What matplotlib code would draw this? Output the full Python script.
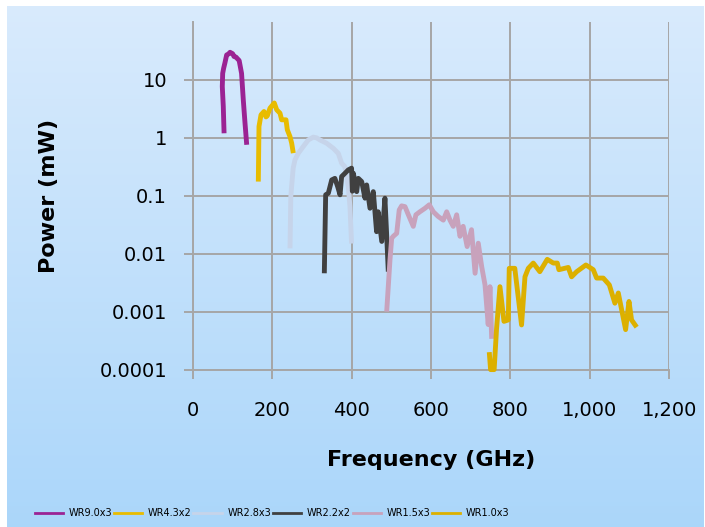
import numpy as np
import matplotlib.pyplot as plt
from matplotlib.lines import Line2D
from matplotlib.ticker import FixedLocator, FixedFormatter

# WR9.0x3
wr90_f = [79, 77, 74.5, 75.5, 78, 81, 85.5, 90, 94, 98, 100.7, 104, 109, 112, 117, 123, 127.4, 131.7, 136]
wr90_p = [1.2, 3.5, 7.7, 13, 16, 19.5, 27, 28, 30, 29, 28.3, 25.4, 24.8, 23.5, 21.6, 13, 4.5, 1.8, 0.76]

# WR4.3x2
wr43_f = [165.2, 166.9, 172, 179.5, 184.5, 187.8, 194.6, 205.4, 211.5, 219.8, 224, 234.9, 238.2, 245, 249.2, 253.3]
wr43_p = [0.176, 1.57, 2.5, 2.85, 2.3, 2.4, 3.26, 4.0, 3.05, 2.67, 2.05, 2.05, 1.38, 1.05, 0.81, 0.545]

# WR2.8x3
wr28_f = [245, 247, 249, 253, 257.5, 266, 278.5, 291, 303.6, 312, 320.5, 337, 354, 366.6, 375, 383, 391.7, 396, 400]
wr28_p = [0.0124, 0.097, 0.144, 0.3, 0.417, 0.544, 0.71, 0.92, 1.03, 1.0, 0.92, 0.81, 0.66, 0.54, 0.365, 0.32, 0.144, 0.065, 0.015]

# WR2.2x2
wr22_f = [331.4, 334.8, 341.5, 350, 358, 365, 371, 375, 383.4, 391.7, 400, 402, 404.4, 408.6, 412.9,
          417, 425.5, 433.8, 438, 446.4, 454.7, 463, 467, 476, 484, 488, 492.5]
wr22_p = [0.0046, 0.104, 0.111, 0.188, 0.2, 0.144, 0.104, 0.215, 0.245, 0.28, 0.3, 0.12, 0.245, 0.176, 0.118,
          0.2, 0.176, 0.091, 0.154, 0.061, 0.118, 0.024, 0.053, 0.0163, 0.091, 0.024, 0.0049]

# WR1.5x3
wr15_f = [488.4, 496.7, 501, 505, 513.6, 520, 526, 534.5, 543, 555.4, 562, 572, 585, 595.7, 605.8, 618,
          631, 639.5, 647.8, 656, 664.6, 673, 681, 691, 702, 711, 719, 727.6, 736, 744, 748.5, 752.8]
wr15_p = [0.001, 0.0078, 0.0185, 0.02, 0.0225, 0.057, 0.067, 0.065, 0.047, 0.0297, 0.047, 0.053, 0.061, 0.07,
          0.053, 0.044, 0.038, 0.053, 0.038, 0.0297, 0.047, 0.02, 0.0297, 0.0133, 0.026, 0.0046, 0.0152,
          0.006, 0.0029, 0.0006, 0.0027, 0.00034]

# WR1.0x3
wr10_f = [746.7, 750, 759, 765, 773.6, 783.7, 794.6, 797, 811, 828, 836.6, 845, 857.5, 874, 892.7, 908,
          918, 922, 945.6, 954, 966.8, 990, 1008.6, 1017, 1033.7, 1049, 1063, 1071.6, 1090, 1098.5, 1105, 1117.8]
wr10_p = [0.0002, 0.0001, 0.0001, 0.0005, 0.0027, 0.00068, 0.00072, 0.0056, 0.0056, 0.00059, 0.004,
          0.0056, 0.0069, 0.0049, 0.008, 0.0069, 0.0069, 0.0053, 0.0058, 0.004, 0.0049, 0.0064, 0.0053,
          0.0038, 0.0038, 0.0029, 0.0014, 0.0021, 0.00049, 0.0015, 0.00072, 0.00054]

names = ['WR9.0x3', 'WR4.3x2', 'WR2.8x3', 'WR2.2x2', 'WR1.5x3', 'WR1.0x3']
colors = ['#9b2393', '#e8bc00', '#c6d4ea', '#404040', '#c8a2bc', '#dcb000']

x_ticks = [0, 200, 400, 600, 800, 1000, 1200]
x_labels = ['0', '200', '400', '600', '800', '1,000', '1,200']
y_ticks = [1e-4, 1e-3, 1e-2, 1e-1, 1, 10]
y_labels = ['0.0001', '0.001', '0.01', '0.1', '1', '10']

W, H = 705, 527
fig = plt.figure(figsize=(W / 100, H / 100), dpi=100, facecolor='white')

# gradient background
bg = fig.add_axes([7 / W, 0, 697 / W, 521 / H])
grad = np.linspace(0, 1, 256).reshape(-1, 1)
top = np.array([0.85, 0.92, 0.99])
bot = np.array([0.67, 0.84, 0.98])
img = top + (bot - top) * grad[:, :, None]
bg.imshow(img, aspect='auto', extent=[0, 1, 0, 1])
bg.set_axis_off()

ax = fig.add_axes([192.7 / W, 1 - 369.6 / H, 476.6 / W, 347.6 / H])
ax.set_facecolor('none')

series = [(wr90_f, wr90_p), (wr43_f, wr43_p), (wr28_f, wr28_p),
          (wr22_f, wr22_p), (wr15_f, wr15_p), (wr10_f, wr10_p)]
for (f, p), c, n in zip(series, colors, names):
    ax.plot(f, p, color=c, lw=3.5, solid_joinstyle='round', solid_capstyle='butt', label=n, clip_on=False, zorder=3)

ax.set_yscale('log')
ax.set_xlim(0, 1200)
ax.set_ylim(1e-4, 100)
ax.xaxis.set_major_locator(FixedLocator(x_ticks))
ax.xaxis.set_major_formatter(FixedFormatter(x_labels))
ax.yaxis.set_major_locator(FixedLocator(y_ticks))
ax.yaxis.set_major_formatter(FixedFormatter(y_labels))
ax.yaxis.set_minor_locator(FixedLocator([]))

gc = '#a6a6a6'
ax.grid(True, color=gc, lw=1.4, zorder=0)
ax.set_axisbelow(True)
for s in ['top', 'right']:
    ax.spines[s].set_visible(False)
for s in ['left', 'bottom']:
    ax.spines[s].set_color(gc)
    ax.spines[s].set_linewidth(1.4)
ax.tick_params(axis='both', direction='out', length=6.5, width=1.4, color=gc,
               labelsize=14, labelcolor='black')
ax.tick_params(axis='y', pad=12)
ax.tick_params(axis='x', pad=16)

ax.set_xlabel('Frequency (GHz)', fontsize=16, fontweight='bold', labelpad=22)
ax.set_ylabel('Power (mW)', fontsize=16, fontweight='bold', labelpad=29)

handles = [Line2D([], [], color=c, lw=2) for c in colors]
fig.legend(handles, names, ncol=6, loc='lower left', bbox_to_anchor=(26 / W, 0.0),
           frameon=False, handlelength=2.9, handletextpad=0.6, columnspacing=0.17,
           prop={'size': 7})

fig.savefig('out.png', dpi=100, facecolor='white')
